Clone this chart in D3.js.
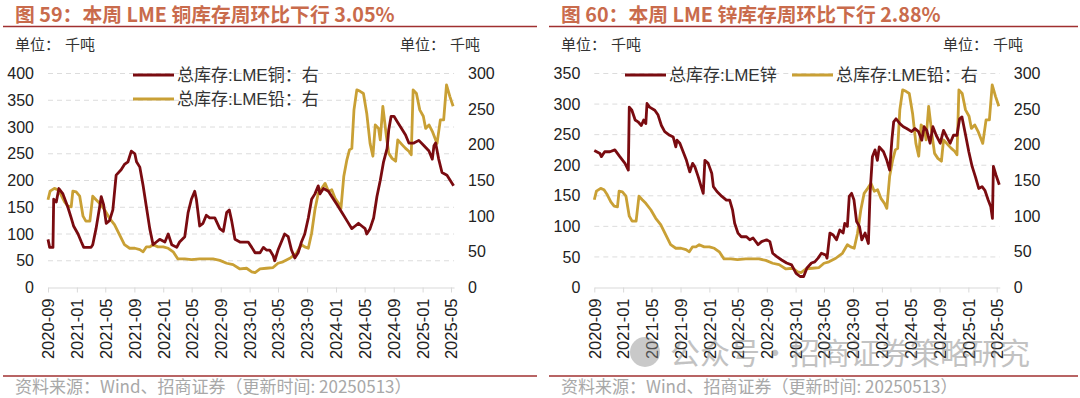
<!DOCTYPE html>
<html>
<head>
<meta charset="utf-8">
<script src="https://cdn.jsdelivr.net/npm/d3@7/dist/d3.min.js"></script>
<style>
  body { margin: 0; background: #fff; }
  svg { display: block; font-family: "Liberation Sans", Arial, "Noto Sans CJK SC", sans-serif; text-spacing-trim: space-all; }
</style>
</head>
<body>
<svg id="chart"></svg>
<script>
// ---- data (thousand tonnes) ----
var xTickLabels = ["2020-09","2021-01","2021-05","2021-09","2022-01","2022-05","2022-09",
                   "2023-01","2023-05","2023-09","2024-01","2024-05","2024-09","2025-01","2025-05"];
var copperTicks = [0, 50, 100, 150, 200, 250, 300, 350, 400];
var zincTicks = [0, 50, 100, 150, 200, 250, 300, 350];
var leadTicks = [0, 50, 100, 150, 200, 250, 300];

var copper = [
  ["2020-09-01",90],["2020-09-08",75],["2020-09-22",75],["2020-09-25",165],["2020-10-06",160],
  ["2020-10-17",185],["2020-11-03",175],["2020-11-24",150],["2020-12-08",130],["2020-12-18",115],
  ["2021-01-06",100],["2021-01-20",85],["2021-01-30",75],["2021-03-02",75],["2021-03-09",80],
  ["2021-03-23",110],["2021-04-07",150],["2021-04-14",170],["2021-04-24",155],["2021-05-05",120],
  ["2021-05-19",125],["2021-06-02",145],["2021-06-16",210],["2021-07-07",220],["2021-07-21",230],
  ["2021-08-05",235],["2021-08-19",255],["2021-09-03",250],["2021-09-10",235],["2021-09-24",225],
  ["2021-10-08",190],["2021-10-22",150],["2021-11-05",110],["2021-11-19",80],["2021-12-03",85],
  ["2021-12-17",90],["2022-01-08",85],["2022-01-22",100],["2022-02-06",80],["2022-02-27",75],
  ["2022-03-11",85],["2022-04-02",95],["2022-04-16",140],["2022-04-30",165],["2022-05-14",180],
  ["2022-05-21",165],["2022-06-04",115],["2022-06-18",120],["2022-07-02",135],["2022-07-16",130],
  ["2022-08-07",130],["2022-08-28",110],["2022-09-12",105],["2022-09-26",140],["2022-10-07",145],
  ["2022-10-17",125],["2022-10-31",90],["2022-11-21",85],["2022-12-12",85],["2022-12-26",85],
  ["2023-01-10",75],["2023-01-24",65],["2023-02-14",65],["2023-02-28",75],["2023-03-13",70],
  ["2023-03-27",70],["2023-04-10",60],["2023-04-17",50],["2023-05-01",70],["2023-05-15",85],
  ["2023-05-29",100],["2023-06-13",95],["2023-06-27",70],["2023-07-11",55],["2023-07-25",65],
  ["2023-08-08",85],["2023-08-22",100],["2023-09-06",130],["2023-09-20",165],["2023-10-04",175],
  ["2023-10-18",190],["2023-10-25",175],["2023-11-09",185],["2023-11-30",180],["2023-12-14",170],
  ["2024-01-05",155],["2024-01-26",140],["2024-02-16",125],["2024-03-08",110],["2024-03-22",115],
  ["2024-04-05",120],["2024-04-19",115],["2024-05-03",110],["2024-05-10",100],["2024-05-24",110],
  ["2024-06-08",130],["2024-06-22",170],["2024-07-06",200],["2024-07-20",235],["2024-08-04",260],
  ["2024-08-11",295],["2024-08-21",320],["2024-09-02",320],["2024-09-16",310],["2024-09-30",300],
  ["2024-10-21",285],["2024-11-04",270],["2024-11-25",270],["2024-12-16",275],["2025-01-07",265],
  ["2025-01-28",255],["2025-02-11",240],["2025-02-18",265],["2025-02-25",270],["2025-03-10",240],
  ["2025-03-24",215],["2025-04-14",210],["2025-04-28",200],["2025-05-12",190]
];

var lead = [
  ["2020-09-01",123],["2020-09-10",135],["2020-09-28",139],["2020-10-12",137],["2020-10-26",130],
  ["2020-11-10",120],["2020-11-24",114],["2020-12-08",113],["2020-12-15",135],["2020-12-29",134],
  ["2021-01-13",128],["2021-01-27",100],["2021-02-08",93],["2021-02-25",93],["2021-03-09",128],
  ["2021-03-23",123],["2021-04-07",118],["2021-04-28",109],["2021-05-19",97],["2021-06-09",88],
  ["2021-06-30",74],["2021-07-21",60],["2021-08-12",55],["2021-09-03",55],["2021-09-24",53],
  ["2021-10-08",50],["2021-10-22",57],["2021-11-05",57],["2021-11-19",60],["2021-12-10",57],
  ["2022-01-01",57],["2022-01-22",55],["2022-02-12",50],["2022-03-04",40],["2022-04-02",40],
  ["2022-04-30",39],["2022-06-04",40],["2022-07-30",40],["2022-08-28",38],["2022-09-26",34],
  ["2022-10-23",32],["2022-11-21",26],["2022-12-19",27],["2023-01-10",22],["2023-01-24",21],
  ["2023-02-14",26],["2023-03-13",27],["2023-04-10",28],["2023-05-01",34],["2023-05-22",36],
  ["2023-06-20",41],["2023-07-18",48],["2023-08-08",60],["2023-08-22",57],["2023-09-06",55],
  ["2023-09-20",76],["2023-10-04",109],["2023-10-18",132],["2023-11-02",139],["2023-11-16",146],
  ["2023-11-30",135],["2023-12-14",137],["2023-12-28",125],["2024-01-12",118],["2024-01-22",111],
  ["2024-02-03",156],["2024-02-16",179],["2024-02-27",193],["2024-03-08",195],["2024-03-17",249],
  ["2024-03-29",277],["2024-04-12",275],["2024-04-26",272],["2024-05-10",244],["2024-05-24",202],
  ["2024-06-05",184],["2024-06-15",228],["2024-06-29",223],["2024-07-06",207],["2024-07-17",254],
  ["2024-08-01",212],["2024-08-11",188],["2024-08-25",181],["2024-09-09",177],["2024-09-18",207],
  ["2024-10-07",200],["2024-10-21",195],["2024-11-04",191],["2024-11-14",186],["2024-11-22",277],
  ["2024-12-06",272],["2024-12-20",249],["2025-01-04",240],["2025-01-14",223],["2025-01-28",228],
  ["2025-02-11",219],["2025-03-03",202],["2025-03-17",235],["2025-03-31",235],["2025-04-12",284],
  ["2025-04-26",268],["2025-05-10",254]
];

var zinc = [
  ["2020-09-01",224],["2020-09-25",219],["2020-10-01",214],["2020-10-15",222],["2020-11-06",222],
  ["2020-11-27",225],["2020-12-18",214],["2021-01-09",203],["2021-01-23",192],["2021-01-27",295],
  ["2021-02-07",290],["2021-02-21",274],["2021-03-05",271],["2021-03-19",265],["2021-03-29",274],
  ["2021-04-07",268],["2021-04-12",301],["2021-04-23",295],["2021-05-15",290],["2021-05-29",282],
  ["2021-06-12",265],["2021-06-26",255],["2021-07-17",249],["2021-08-01",246],["2021-08-12",230],
  ["2021-08-17",241],["2021-08-29",236],["2021-09-12",222],["2021-09-26",208],["2021-10-10",189],
  ["2021-10-22",203],["2021-11-01",197],["2021-11-15",181],["2021-11-25",168],["2021-12-06",154],
  ["2021-12-13",208],["2021-12-27",203],["2022-01-11",187],["2022-01-18",165],["2022-02-02",157],
  ["2022-02-23",149],["2022-03-14",143],["2022-03-28",143],["2022-04-09",127],["2022-04-18",105],
  ["2022-05-02",89],["2022-05-16",83],["2022-06-07",83],["2022-06-21",78],["2022-07-05",81],
  ["2022-07-26",70],["2022-08-10",75],["2022-08-31",78],["2022-09-14",75],["2022-09-26",56],
  ["2022-10-12",51],["2022-11-03",45],["2022-11-24",40],["2022-12-15",37],["2023-01-03",23],
  ["2023-01-20",18],["2023-02-04",18],["2023-02-18",32],["2023-03-09",40],["2023-03-23",42],
  ["2023-04-06",48],["2023-04-20",56],["2023-05-09",53],["2023-05-14",48],["2023-05-26",89],
  ["2023-06-09",86],["2023-06-23",78],["2023-07-07",94],["2023-07-21",89],["2023-07-28",105],
  ["2023-08-08",100],["2023-08-16",149],["2023-08-26",154],["2023-09-05",143],["2023-09-16",108],
  ["2023-09-28",100],["2023-10-08",78],["2023-10-22",89],["2023-11-05",72],["2023-11-12",154],
  ["2023-11-22",214],["2023-12-03",225],["2023-12-13",208],["2023-12-21",230],["2024-01-08",222],
  ["2024-01-22",208],["2024-02-03",192],["2024-02-13",244],["2024-02-20",271],["2024-03-01",276],
  ["2024-03-17",268],["2024-04-01",263],["2024-04-15",260],["2024-05-06",255],["2024-05-20",260],
  ["2024-06-04",255],["2024-06-18",241],["2024-06-28",263],["2024-07-09",257],["2024-07-23",236],
  ["2024-08-04",263],["2024-08-18",249],["2024-09-04",236],["2024-09-18",257],["2024-10-02",246],
  ["2024-10-16",236],["2024-10-30",249],["2024-11-14",249],["2024-11-25",276],["2024-12-05",279],
  ["2024-12-19",252],["2025-01-03",222],["2025-01-17",198],["2025-01-31",181],["2025-02-14",162],
  ["2025-02-28",165],["2025-03-12",159],["2025-03-26",143],["2025-04-06",132],["2025-04-13",113],
  ["2025-04-17",198],["2025-04-28",184],["2025-05-12",168]
];

var width = 1080, height = 398;
var dark = "#7a0b10", gold = "#c9a035", ruleColor = "#a03030";
var cjk = "'Noto Sans CJK SC', sans-serif";
var parse = d3.timeParse("%Y-%m-%d");
var tParse = d3.timeParse("%Y-%m");
var tStart = parse("2020-09-01"), tLastTick = parse("2025-05-01"), tEnd = parse("2025-05-14");

var svg = d3.select("#chart").attr("width", width).attr("height", height);

// "单位：千吨" with the gap after the colon kept
function unitLabel(g, x) {
  var t = g.append("text").attr("y", 50).attr("font-family", cjk)
    .attr("font-size", 15).attr("fill", "#333");
  t.append("tspan").attr("x", x).text("单位：");
  t.append("tspan").attr("x", x + 50).text("千吨");
}

function panel(o) {
  var g = svg.append("g");
  // x: tick 2020-09 at o.x0 and tick 2025-05 at o.x1, running on to tEnd
  var k = (o.x1 - o.x0) / (tLastTick - tStart);
  var xEnd = o.x0 + (tEnd - tStart) * k;
  var x = d3.scaleTime().domain([tStart, tEnd]).range([o.x0, xEnd]);
  var top = 73.5, bottom = 287.5;
  var yL = d3.scaleLinear().domain([0, o.leftMax]).range([bottom, top]);
  var yR = d3.scaleLinear().domain([0, 300]).range([bottom, top]);

  // title + rules
  g.append("text").attr("x", o.left + 12).attr("y", 22)
    .attr("font-family", cjk).attr("font-weight", "bold")
    .attr("font-size", 19.8).attr("fill", "#c96b4c").text(o.title);
  g.append("line").attr("x1", o.left).attr("x2", o.right).attr("y1", 26.5).attr("y2", 26.5)
    .attr("stroke", ruleColor).attr("stroke-width", 1.5);
  g.append("line").attr("x1", o.left).attr("x2", o.right).attr("y1", 376).attr("y2", 376)
    .attr("stroke", ruleColor).attr("stroke-width", 1.5);
  g.append("text").attr("x", o.left + 12).attr("y", 393)
    .attr("font-family", cjk)
    .attr("font-size", 17).attr("fill", "#a8a8a8")
    .text("资料来源：Wind、招商证券（更新时间: 20250513）");

  unitLabel(g, o.left + 12);
  unitLabel(g, o.unitR);

  // grid
  g.append("g").selectAll("line").data(o.leftTicks.slice(1)).enter().append("line")
    .attr("x1", o.x0).attr("x2", xEnd)
    .attr("y1", d => yL(d)).attr("y2", d => yL(d))
    .attr("stroke", "#dcdcdc").attr("stroke-dasharray", "5,4");

  // left / right axes
  var axL = g.append("g").attr("transform", "translate(" + o.x0 + ",0)")
    .call(d3.axisLeft(yL).tickValues(o.leftTicks).tickSize(0).tickPadding(14));
  axL.select(".domain").remove();
  axL.selectAll("text").attr("font-size", 16).attr("fill", "#222");

  var axR = g.append("g").attr("transform", "translate(" + xEnd + ",0)")
    .call(d3.axisRight(yR).tickValues(leadTicks).tickSize(0).tickPadding(14));
  axR.select(".domain").remove();
  axR.selectAll("text").attr("font-size", 16).attr("fill", "#222");

  // x axis
  var ax = g.append("g").attr("transform", "translate(0," + bottom + ")")
    .call(d3.axisBottom(x).tickValues(xTickLabels.map(tParse)).tickSize(5).tickSizeOuter(0)
      .tickFormat(d3.timeFormat("%Y-%m")));
  ax.select(".domain").attr("stroke", "#d9d9d9");
  ax.selectAll(".tick line").attr("stroke", "#d9d9d9");
  ax.selectAll("text").attr("font-size", 16.5).attr("fill", "#222")
    .attr("text-anchor", "end").attr("transform", "rotate(-90)")
    .attr("x", -11).attr("y", 0).attr("dy", "0.35em");

  // lines
  var lineL = d3.line().x(d => x(parse(d[0]))).y(d => yL(d[1]));
  var lineR = d3.line().x(d => x(parse(d[0]))).y(d => yR(d[1]));
  g.append("path").datum(lead).attr("d", lineR).attr("fill", "none")
    .attr("stroke", gold).attr("stroke-width", 2.8).attr("stroke-linejoin", "round");
  g.append("path").datum(o.leftSeries).attr("d", lineL).attr("fill", "none")
    .attr("stroke", dark).attr("stroke-width", 2.8).attr("stroke-linejoin", "round");

  // legend
  o.legend.forEach(function (it) {
    g.append("line").attr("x1", it.x).attr("x2", it.x + 41).attr("y1", it.y).attr("y2", it.y)
      .attr("stroke", it.color).attr("stroke-width", 3);
    g.append("text").attr("x", it.x + 44).attr("y", it.y).attr("dy", "0.36em")
      .attr("font-family", "'Liberation Sans', 'Noto Sans CJK SC', sans-serif")
      .attr("font-size", 17).attr("fill", "#333").text(it.label);
  });
  return g;
}

panel({
  left: 3, right: 537, x0: 48, x1: 451, unitR: 400, leftMax: 400, leftTicks: copperTicks,
  title: "图 59：本周 LME 铜库存周环比下行 3.05%", leftSeries: copper,
  legend: [
    { x: 133, y: 75, color: dark, label: "总库存:LME铜：右" },
    { x: 133, y: 99, color: gold, label: "总库存:LME铅：右" }
  ]
});

panel({
  left: 549, right: 1078, x0: 594.3, x1: 996.7, unitR: 943, leftMax: 350, leftTicks: zincTicks,
  title: "图 60：本周 LME 锌库存周环比下行 2.88%", leftSeries: zinc,
  legend: [
    { x: 625, y: 75, color: dark, label: "总库存:LME锌" },
    { x: 792, y: 75, color: gold, label: "总库存:LME铅：右" }
  ]
});

// watermark
var wm = svg.append("g").attr("opacity", 0.45);
wm.append("circle").attr("cx", 645).attr("cy", 352).attr("r", 15).attr("fill", "#8a8a8a");
wm.append("text").attr("x", 670).attr("y", 364).attr("font-family", cjk)
  .attr("font-size", 30).attr("fill", "#7a7a7a")
  .text("公众号·招商证券策略研究");
</script>
</body>
</html>
